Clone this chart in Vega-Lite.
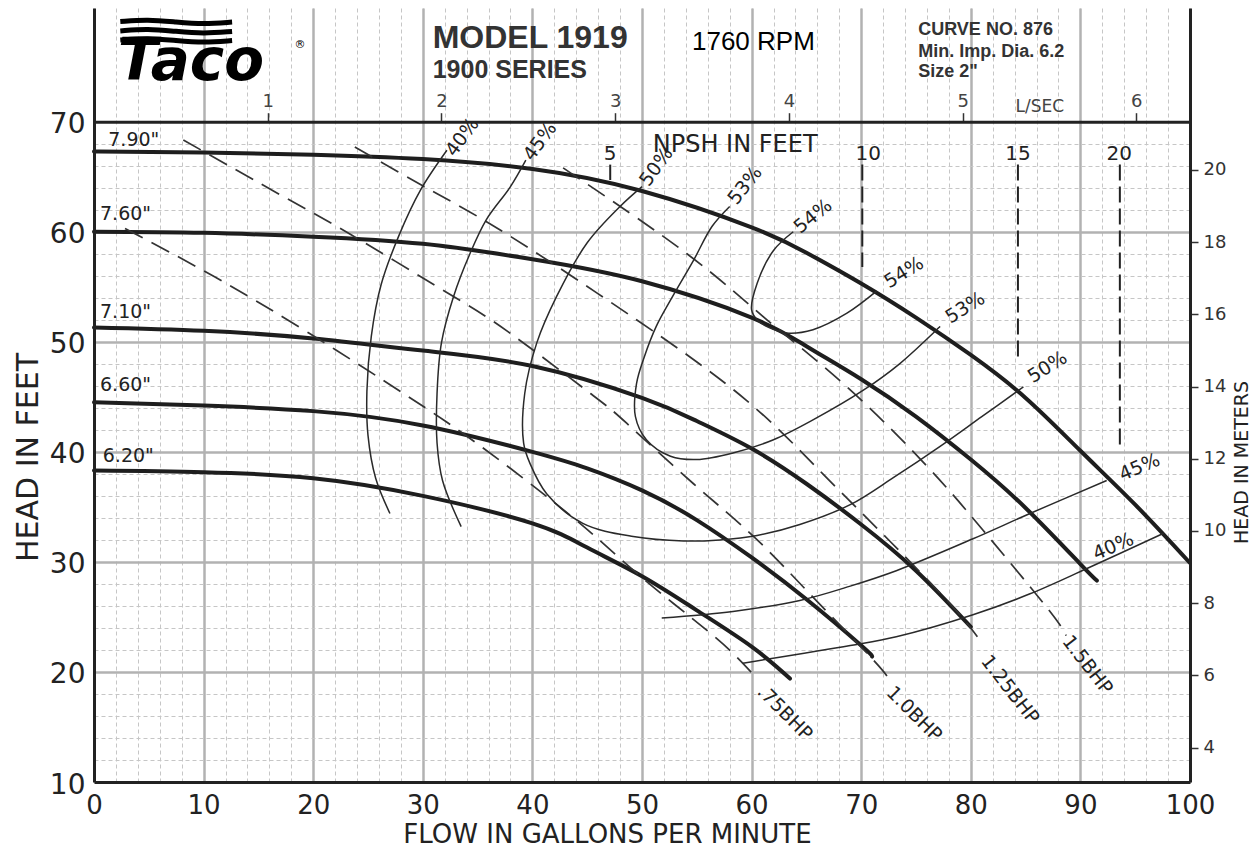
{
  "$schema": "https://vega.github.io/schema/vega-lite/v6.json",
  "width": 1096,
  "height": 774,
  "autosize": {"type": "none"},
  "padding": {"left": 94, "top": 8, "right": 67, "bottom": 70},
  "background": "white",
  "config": {
    "view": {"stroke": null},
    "font": "DejaVu Sans",
    "axis": {"labelFont": "DejaVu Sans", "titleFont": "DejaVu Sans", "labelColor": "#222", "titleColor": "#222", "titleFontWeight": "normal", "labelFlush": false, "labelOverlap": false}
  },
  "datasets": {
    "heads": [
      {"d":"7.90","q":0,"h":67.3},{"d":"7.90","q":10,"h":67.2},{"d":"7.90","q":20,"h":67.0},{"d":"7.90","q":30,"h":66.6},{"d":"7.90","q":40,"h":65.7},{"d":"7.90","q":50,"h":63.7},{"d":"7.90","q":60,"h":60.4},{"d":"7.90","q":65,"h":58.1},{"d":"7.90","q":70,"h":55.3},{"d":"7.90","q":75,"h":52.2},{"d":"7.90","q":80,"h":48.8},{"d":"7.90","q":85,"h":44.9},{"d":"7.90","q":90,"h":40.1},{"d":"7.90","q":95,"h":35.2},{"d":"7.90","q":100,"h":29.9},
      {"d":"7.60","q":0,"h":60.0},{"d":"7.60","q":10,"h":59.9},{"d":"7.60","q":20,"h":59.55},{"d":"7.60","q":30,"h":58.9},{"d":"7.60","q":40,"h":57.5},{"d":"7.60","q":50,"h":55.5},{"d":"7.60","q":60,"h":52.2},{"d":"7.60","q":65,"h":49.6},{"d":"7.60","q":70,"h":46.6},{"d":"7.60","q":75,"h":43.2},{"d":"7.60","q":80,"h":39.3},{"d":"7.60","q":85,"h":34.9},{"d":"7.60","q":90,"h":29.8},{"d":"7.60","q":91.5,"h":28.3},
      {"d":"7.10","q":0,"h":51.3},{"d":"7.10","q":10,"h":51.0},{"d":"7.10","q":20,"h":50.3},{"d":"7.10","q":30,"h":49.2},{"d":"7.10","q":40,"h":47.8},{"d":"7.10","q":50,"h":44.9},{"d":"7.10","q":55,"h":42.8},{"d":"7.10","q":60,"h":40.3},{"d":"7.10","q":65,"h":37.1},{"d":"7.10","q":70,"h":33.4},{"d":"7.10","q":75,"h":29.2},{"d":"7.10","q":80,"h":24.1},
      {"d":"6.60","q":0,"h":44.5},{"d":"6.60","q":10,"h":44.2},{"d":"6.60","q":20,"h":43.7},{"d":"6.60","q":30,"h":42.4},{"d":"6.60","q":40,"h":40.0},{"d":"6.60","q":45,"h":38.5},{"d":"6.60","q":50,"h":36.5},{"d":"6.60","q":55,"h":33.8},{"d":"6.60","q":60,"h":30.4},{"d":"6.60","q":65,"h":26.6},{"d":"6.60","q":70,"h":22.4},{"d":"6.60","q":71,"h":21.4},
      {"d":"6.20","q":0,"h":38.3},{"d":"6.20","q":10,"h":38.15},{"d":"6.20","q":20,"h":37.6},{"d":"6.20","q":30,"h":36.0},{"d":"6.20","q":40,"h":33.5},{"d":"6.20","q":45,"h":31.3},{"d":"6.20","q":50,"h":28.7},{"d":"6.20","q":55,"h":25.6},{"d":"6.20","q":60,"h":22.3},{"d":"6.20","q":63.5,"h":19.4}
    ],
    "eff": [
      {"c":"40L","i":0,"q":32.2,"h":67.4},{"c":"40L","i":1,"q":29.8,"h":63.8},{"c":"40L","i":2,"q":27.8,"h":59.6},{"c":"40L","i":3,"q":26.2,"h":55.2},{"c":"40L","i":4,"q":25.3,"h":50.5},{"c":"40L","i":5,"q":24.9,"h":45.5},{"c":"40L","i":6,"q":25.0,"h":41.5},{"c":"40L","i":7,"q":25.7,"h":37.6},{"c":"40L","i":8,"q":27.0,"h":34.4},
      {"c":"45L","i":0,"q":39.4,"h":66.5},{"c":"45L","i":1,"q":38.0,"h":64.1},{"c":"45L","i":2,"q":35.8,"h":61.1},{"c":"45L","i":3,"q":34.3,"h":58.0},{"c":"45L","i":4,"q":32.8,"h":54.1},{"c":"45L","i":5,"q":31.7,"h":49.9},{"c":"45L","i":6,"q":31.3,"h":45.3},{"c":"45L","i":7,"q":31.3,"h":40.8},{"c":"45L","i":8,"q":31.8,"h":37.4},{"c":"45L","i":9,"q":33.5,"h":33.2},
      {"c":"50","i":0,"q":50.0,"h":64.1},{"c":"50","i":1,"q":48.0,"h":62.3},{"c":"50","i":2,"q":45.0,"h":59.0},{"c":"50","i":3,"q":42.2,"h":54.1},{"c":"50","i":4,"q":40.4,"h":49.9},{"c":"50","i":5,"q":39.3,"h":45.3},{"c":"50","i":6,"q":39.2,"h":40.8},{"c":"50","i":7,"q":39.8,"h":38.9},{"c":"50","i":8,"q":41.3,"h":36.2},{"c":"50","i":9,"q":44.6,"h":33.5},{"c":"50","i":10,"q":49.2,"h":32.3},{"c":"50","i":11,"q":53.8,"h":31.9},{"c":"50","i":12,"q":57.1,"h":32.0},{"c":"50","i":13,"q":60.5,"h":32.4},{"c":"50","i":14,"q":64.4,"h":33.4},{"c":"50","i":15,"q":69.0,"h":35.2},{"c":"50","i":16,"q":73.0,"h":37.7},{"c":"50","i":17,"q":77.2,"h":40.5},{"c":"50","i":18,"q":81.0,"h":43.2},{"c":"50","i":19,"q":84.8,"h":45.9},
      {"c":"53","i":0,"q":58.0,"h":62.3},{"c":"53","i":1,"q":56.4,"h":60.5},{"c":"53","i":2,"q":54.7,"h":57.4},{"c":"53","i":3,"q":52.9,"h":54.3},{"c":"53","i":4,"q":51.3,"h":51.4},{"c":"53","i":5,"q":50.2,"h":48.6},{"c":"53","i":6,"q":49.5,"h":46.2},{"c":"53","i":7,"q":49.4,"h":43.2},{"c":"53","i":8,"q":50.4,"h":41.1},{"c":"53","i":9,"q":52.6,"h":39.6},{"c":"53","i":10,"q":55.0,"h":39.3},{"c":"53","i":11,"q":58.3,"h":39.9},{"c":"53","i":12,"q":62.0,"h":41.1},{"c":"53","i":13,"q":65.6,"h":42.9},{"c":"53","i":14,"q":70.2,"h":45.6},{"c":"53","i":15,"q":73.5,"h":48.0},{"c":"53","i":16,"q":77.2,"h":51.4},
      {"c":"54","i":0,"q":63.8,"h":60.0},{"c":"54","i":1,"q":62.0,"h":58.3},{"c":"54","i":2,"q":60.5,"h":55.3},{"c":"54","i":3,"q":60.0,"h":52.9},{"c":"54","i":4,"q":60.6,"h":51.9},{"c":"54","i":5,"q":61.6,"h":51.3},{"c":"54","i":6,"q":63.2,"h":50.8},{"c":"54","i":7,"q":65.6,"h":51.1},{"c":"54","i":8,"q":68.7,"h":52.6},{"c":"54","i":9,"q":71.4,"h":54.6},
      {"c":"45R","i":0,"q":51.8,"h":24.9},{"c":"45R","i":1,"q":58.3,"h":25.5},{"c":"45R","i":2,"q":64.4,"h":26.5},{"c":"45R","i":3,"q":69.0,"h":27.8},{"c":"45R","i":4,"q":73.2,"h":29.2},{"c":"45R","i":5,"q":80.2,"h":32.1},{"c":"45R","i":6,"q":85.4,"h":34.4},{"c":"45R","i":7,"q":92.4,"h":37.4},
      {"c":"40R","i":0,"q":59.2,"h":20.8},{"c":"40R","i":1,"q":69.0,"h":22.4},{"c":"40R","i":2,"q":73.2,"h":23.2},{"c":"40R","i":3,"q":80.2,"h":25.2},{"c":"40R","i":4,"q":85.4,"h":27.1},{"c":"40R","i":5,"q":90.6,"h":29.4},{"c":"40R","i":6,"q":97.6,"h":32.6}
    ],
    "bhp": [
      {"b":"0.75","q":2.83,"h":60.3},{"b":"0.75","q":11.0,"h":55.9},{"b":"0.75","q":19.6,"h":50.8},{"b":"0.75","q":28.4,"h":45.2},{"b":"0.75","q":35.3,"h":40.5},{"b":"0.75","q":42.5,"h":35.0},{"b":"0.75","q":46.2,"h":31.9},{"b":"0.75","q":49.5,"h":29.0},{"b":"0.75","q":52.9,"h":26.2},{"b":"0.75","q":55.9,"h":23.8},{"b":"0.75","q":58.3,"h":21.7},{"b":"0.75","q":60.5,"h":19.4},
      {"b":"1.0","q":8.15,"h":68.34},{"b":"1.0","q":17.1,"h":63.3},{"b":"1.0","q":23.5,"h":59.7},{"b":"1.0","q":32.0,"h":54.6},{"b":"1.0","q":37.8,"h":50.9},{"b":"1.0","q":45.3,"h":45.3},{"b":"1.0","q":48.6,"h":42.6},{"b":"1.0","q":54.7,"h":37.1},{"b":"1.0","q":60.2,"h":32.3},{"b":"1.0","q":65.6,"h":26.8},{"b":"1.0","q":71.1,"h":21.1},{"b":"1.0","q":72.6,"h":19.2},
      {"b":"1.25","q":23.8,"h":67.7},{"b":"1.25","q":30.5,"h":63.9},{"b":"1.25","q":37.8,"h":59.7},{"b":"1.25","q":49.5,"h":52.0},{"b":"1.25","q":59.5,"h":44.7},{"b":"1.25","q":66.5,"h":38.0},{"b":"1.25","q":72.6,"h":31.9},{"b":"1.25","q":78.1,"h":26.2},{"b":"1.25","q":80.6,"h":23.2},
      {"b":"1.5","q":42.8,"h":65.8},{"b":"1.5","q":54.1,"h":58.0},{"b":"1.5","q":61.4,"h":52.0},{"b":"1.5","q":68.7,"h":45.9},{"b":"1.5","q":76.0,"h":38.7},{"b":"1.5","q":81.1,"h":32.9},{"b":"1.5","q":86.9,"h":25.9},{"b":"1.5","q":88.7,"h":23.3}
    ],
    "npsh": [
      {"n":"5","q":47.1,"h1":66.1,"h2":64.7},
      {"n":"10","q":70.1,"h1":66.1,"h2":56.8},
      {"n":"15","q":84.3,"h1":66.1,"h2":48.3},
      {"n":"20","q":93.6,"h1":66.1,"h2":40.2}
    ],
    "waves": [
      {"w":1,"q":2.4,"h":79.1},{"w":1,"q":4.9,"h":79.3},{"w":1,"q":7.5,"h":79.05},{"w":1,"q":10.0,"h":78.85},{"w":1,"q":12.6,"h":79.05},
      {"w":2,"q":2.4,"h":78.25},{"w":2,"q":4.9,"h":78.45},{"w":2,"q":7.5,"h":78.2},{"w":2,"q":10.0,"h":78.0},{"w":2,"q":12.6,"h":78.2},
      {"w":3,"q":2.4,"h":77.42},{"w":3,"q":4.9,"h":77.62},{"w":3,"q":7.5,"h":77.37},{"w":3,"q":10.0,"h":77.17},{"w":3,"q":12.6,"h":77.37}
    ],
    "labels": [
      {"t":"7.90\"","q":1.3,"h":68.3,"g":"dia"},
      {"t":"7.60\"","q":0.55,"h":61.6,"g":"dia"},
      {"t":"7.10\"","q":0.55,"h":52.7,"g":"dia"},
      {"t":"6.60\"","q":0.55,"h":46.1,"g":"dia"},
      {"t":"6.20\"","q":0.8,"h":39.6,"g":"dia"},
      {"t":"40%","q":33.6,"h":68.6,"g":"e55"},
      {"t":"45%","q":40.7,"h":68.2,"g":"e55"},
      {"t":"50%","q":51.3,"h":65.9,"g":"e55"},
      {"t":"53%","q":59.4,"h":64.2,"g":"e52"},
      {"t":"54%","q":65.6,"h":61.4,"g":"e39"},
      {"t":"54%","q":73.9,"h":56.3,"g":"e32"},
      {"t":"53%","q":79.5,"h":53.1,"g":"e32"},
      {"t":"50%","q":87.0,"h":47.7,"g":"e32"},
      {"t":"45%","q":95.4,"h":38.6,"g":"e23"},
      {"t":"40%","q":93.0,"h":31.4,"g":"e23"},
      {"t":".75BHP","q":60.8,"h":18.5,"g":"b45"},
      {"t":"1.0BHP","q":72.6,"h":18.4,"g":"b45"},
      {"t":"1.25BHP","q":81.3,"h":21.3,"g":"b52"},
      {"t":"1.5BHP","q":88.7,"h":23.1,"g":"b52"},
      {"t":"5","q":47.1,"h":67.1,"g":"np"},
      {"t":"10","q":70.65,"h":67.1,"g":"np"},
      {"t":"15","q":84.3,"h":67.1,"g":"np"},
      {"t":"20","q":93.55,"h":67.1,"g":"np"},
      {"t":"NPSH IN FEET","q":58.5,"h":67.9,"g":"npt"},
      {"t":"L/SEC","q":86.3,"h":71.34,"g":"ls"},
      {"t":"MODEL 1919","q":30.9,"h":77.6,"g":"model"},
      {"t":"1900 SERIES","q":30.9,"h":74.7,"g":"series"},
      {"t":"1760 RPM","q":54.56,"h":77.24,"g":"rpm"},
      {"t":"CURVE NO. 876","q":75.2,"h":78.3,"g":"info"},
      {"t":"Min. Imp. Dia. 6.2","q":75.2,"h":76.36,"g":"info"},
      {"t":"Size 2\"","q":75.2,"h":74.5,"g":"info"},
      {"t":"Taco","q":2.19,"h":73.79,"g":"logo"},
      {"t":"®","q":18.8,"h":76.97,"g":"reg"}
    ]
  },
  "resolve": {"scale": {"x": "independent", "y": "independent"}},
  "layer": [
    {
      "data": {"values": [{"q": 0, "h": 10}, {"q": 100, "h": 80.33}]},
      "mark": {"type": "point", "opacity": 0},
      "encoding": {
        "x": {"field": "q", "type": "quantitative", "scale": {"domain": [0, 100], "nice": false, "zero": false},
          "axis": {"orient": "bottom", "values": [0,2,4,6,8,10,12,14,16,18,20,22,24,26,28,30,32,34,36,38,40,42,44,46,48,50,52,54,56,58,60,62,64,66,68,70,72,74,76,78,80,82,84,86,88,90,92,94,96,98,100], "grid": true, "gridColor": "#c6c6c6", "gridDash": [4, 3], "gridWidth": 1, "labels": false, "ticks": false, "domain": false, "title": null, "zindex": 0}},
        "y": {"field": "h", "type": "quantitative", "scale": {"domain": [10, 80.33], "nice": false, "zero": false},
          "axis": {"orient": "left", "values": [10,12,14,16,18,20,22,24,26,28,30,32,34,36,38,40,42,44,46,48,50,52,54,56,58,60,62,64,66,68,70], "grid": true, "gridColor": "#c6c6c6", "gridDash": [4, 3], "gridWidth": 1, "labels": false, "ticks": false, "domain": false, "title": null, "zindex": 0}}
      }
    },
    {
      "data": {"values": [{"q": 0, "h": 10}, {"q": 100, "h": 80.33}]},
      "mark": {"type": "point", "opacity": 0},
      "encoding": {
        "x": {"field": "q", "type": "quantitative", "scale": {"domain": [0, 100], "nice": false, "zero": false},
          "axis": {"orient": "bottom", "values": [10,20,30,40,50,60,70,80,90], "grid": true, "gridColor": "#b2b2b2", "gridWidth": 2.5, "labels": false, "ticks": false, "domain": false, "title": null, "zindex": 0}},
        "y": {"field": "h", "type": "quantitative", "scale": {"domain": [10, 80.33], "nice": false, "zero": false},
          "axis": {"orient": "left", "values": [20,30,40,50,60], "grid": true, "gridColor": "#b2b2b2", "gridWidth": 2.5, "labels": false, "ticks": false, "domain": false, "title": null, "zindex": 0}}
      }
    },
    {
      "layer": [
        {
          "mark": {"type": "rect", "fill": "white"},
          "encoding": {"x": {"datum": 0}, "x2": {"datum": 100}, "y": {"datum": 70}, "y2": {"datum": 80.33}}
        },
        {
          "data": {"name": "heads"},
          "mark": {"type": "line", "interpolate": "natural", "strokeWidth": 4, "color": "#1e1e1e", "strokeCap": "round"},
          "encoding": {
            "x": {"field": "q", "type": "quantitative", "scale": {"domain": [0, 100], "nice": false, "zero": false},
              "axis": {"orient": "bottom", "values": [0,10,20,30,40,50,60,70,80,90,100], "grid": false, "ticks": false, "tickSize": 0, "labelPadding": 10, "labelFontSize": 26, "labelColor": "#222", "domain": true, "domainWidth": 3, "domainColor": "#222", "title": "FLOW IN GALLONS PER MINUTE", "titleFontSize": 26, "titleX": 513, "titleY": 52, "titleAlign": "center", "titleBaseline": "middle", "zindex": 1}},
            "y": {"field": "h", "type": "quantitative", "scale": {"domain": [10, 80.33], "nice": false, "zero": false},
              "axis": {"orient": "left", "values": [10,20,30,40,50,60,70], "grid": false, "ticks": false, "tickSize": 0, "labelPadding": 9, "labelFontSize": 28, "labelOffset": 3, "labelColor": "#222", "domain": true, "domainWidth": 3, "domainColor": "#222", "title": "HEAD IN FEET", "titleFontSize": 30, "titleAngle": 270, "titleX": -66, "titleY": 449, "titleAlign": "center", "titleBaseline": "middle", "zindex": 1}},
            "detail": {"field": "d"}
          }
        },
        {
          "data": {"name": "npsh"},
          "mark": {"type": "rule", "strokeDash": [16, 6], "strokeWidth": 2, "color": "#222"},
          "encoding": {"x": {"field": "q", "type": "quantitative"}, "y": {"field": "h1", "type": "quantitative"}, "y2": {"field": "h2"}}
        },
        {
          "data": {"name": "bhp"},
          "mark": {"type": "line", "interpolate": "natural", "strokeWidth": 1.7, "color": "#333", "strokeDash": [20, 10]},
          "encoding": {"x": {"field": "q", "type": "quantitative"}, "y": {"field": "h", "type": "quantitative"}, "detail": {"field": "b"}}
        },
        {
          "data": {"name": "eff"},
          "mark": {"type": "line", "interpolate": "catmull-rom", "strokeWidth": 1.5, "color": "#2a2a2a"},
          "encoding": {"x": {"field": "q", "type": "quantitative"}, "y": {"field": "h", "type": "quantitative"}, "detail": {"field": "c"}, "order": {"field": "i", "type": "quantitative"}}
        },
        {
          "mark": {"type": "rule", "strokeWidth": 3, "color": "#222"},
          "encoding": {"x": {"datum": 0}, "x2": {"datum": 100}, "y": {"datum": 72.88}}
        },
        {
          "mark": {"type": "rule", "strokeWidth": 3, "color": "#222"},
          "encoding": {"x": {"datum": 0}, "x2": {"datum": 100}, "y": {"datum": 80.33}}
        },
        {
          "mark": {"type": "rule", "strokeWidth": 2.5, "color": "#222"},
          "encoding": {"x": {"datum": 72.9}, "y": {"datum": 72.88}, "y2": {"datum": 80.33}}
        },
        {
          "data": {"name": "waves"},
          "mark": {"type": "line", "interpolate": "basis", "strokeWidth": 5, "color": "#000"},
          "encoding": {"x": {"field": "q", "type": "quantitative"}, "y": {"field": "h", "type": "quantitative"}, "detail": {"field": "w"}}
        },
        {
          "data": {"name": "labels"}, "transform": [{"filter": "datum.g == 'dia'"}],
          "mark": {"type": "text", "align": "left", "baseline": "middle", "fontSize": 19, "color": "#222"},
          "encoding": {"x": {"field": "q", "type": "quantitative"}, "y": {"field": "h", "type": "quantitative"}, "text": {"field": "t"}}
        },
        {
          "data": {"name": "labels"}, "transform": [{"filter": "datum.g == 'e55'"}],
          "mark": {"type": "text", "align": "center", "baseline": "middle", "fontSize": 19, "color": "#222", "angle": -54},
          "encoding": {"x": {"field": "q", "type": "quantitative"}, "y": {"field": "h", "type": "quantitative"}, "text": {"field": "t"}}
        },
        {
          "data": {"name": "labels"}, "transform": [{"filter": "datum.g == 'e52'"}],
          "mark": {"type": "text", "align": "center", "baseline": "middle", "fontSize": 19, "color": "#222", "angle": -52},
          "encoding": {"x": {"field": "q", "type": "quantitative"}, "y": {"field": "h", "type": "quantitative"}, "text": {"field": "t"}}
        },
        {
          "data": {"name": "labels"}, "transform": [{"filter": "datum.g == 'e39'"}],
          "mark": {"type": "text", "align": "center", "baseline": "middle", "fontSize": 19, "color": "#222", "angle": -39},
          "encoding": {"x": {"field": "q", "type": "quantitative"}, "y": {"field": "h", "type": "quantitative"}, "text": {"field": "t"}}
        },
        {
          "data": {"name": "labels"}, "transform": [{"filter": "datum.g == 'e32'"}],
          "mark": {"type": "text", "align": "center", "baseline": "middle", "fontSize": 19, "color": "#222", "angle": -32},
          "encoding": {"x": {"field": "q", "type": "quantitative"}, "y": {"field": "h", "type": "quantitative"}, "text": {"field": "t"}}
        },
        {
          "data": {"name": "labels"}, "transform": [{"filter": "datum.g == 'e23'"}],
          "mark": {"type": "text", "align": "center", "baseline": "middle", "fontSize": 19, "color": "#222", "angle": -23},
          "encoding": {"x": {"field": "q", "type": "quantitative"}, "y": {"field": "h", "type": "quantitative"}, "text": {"field": "t"}}
        },
        {
          "data": {"name": "labels"}, "transform": [{"filter": "datum.g == 'b45'"}],
          "mark": {"type": "text", "align": "left", "baseline": "middle", "fontSize": 19, "color": "#222", "angle": 45},
          "encoding": {"x": {"field": "q", "type": "quantitative"}, "y": {"field": "h", "type": "quantitative"}, "text": {"field": "t"}}
        },
        {
          "data": {"name": "labels"}, "transform": [{"filter": "datum.g == 'b52'"}],
          "mark": {"type": "text", "align": "left", "baseline": "middle", "fontSize": 19, "color": "#222", "angle": 52},
          "encoding": {"x": {"field": "q", "type": "quantitative"}, "y": {"field": "h", "type": "quantitative"}, "text": {"field": "t"}}
        },
        {
          "data": {"name": "labels"}, "transform": [{"filter": "datum.g == 'np'"}],
          "mark": {"type": "text", "align": "center", "baseline": "middle", "fontSize": 20, "color": "#222"},
          "encoding": {"x": {"field": "q", "type": "quantitative"}, "y": {"field": "h", "type": "quantitative"}, "text": {"field": "t"}}
        },
        {
          "data": {"name": "labels"}, "transform": [{"filter": "datum.g == 'npt'"}],
          "mark": {"type": "text", "align": "center", "baseline": "middle", "fontSize": 24, "color": "#222"},
          "encoding": {"x": {"field": "q", "type": "quantitative"}, "y": {"field": "h", "type": "quantitative"}, "text": {"field": "t"}}
        },
        {
          "data": {"name": "labels"}, "transform": [{"filter": "datum.g == 'ls'"}],
          "mark": {"type": "text", "align": "center", "baseline": "middle", "fontSize": 17, "color": "#444"},
          "encoding": {"x": {"field": "q", "type": "quantitative"}, "y": {"field": "h", "type": "quantitative"}, "text": {"field": "t"}}
        },
        {
          "data": {"name": "labels"}, "transform": [{"filter": "datum.g == 'model'"}],
          "mark": {"type": "text", "align": "left", "baseline": "middle", "font": "Liberation Sans", "fontWeight": "bold", "fontSize": 32, "color": "#333"},
          "encoding": {"x": {"field": "q", "type": "quantitative"}, "y": {"field": "h", "type": "quantitative"}, "text": {"field": "t"}}
        },
        {
          "data": {"name": "labels"}, "transform": [{"filter": "datum.g == 'series'"}],
          "mark": {"type": "text", "align": "left", "baseline": "middle", "font": "Liberation Sans", "fontWeight": "bold", "fontSize": 25, "color": "#333"},
          "encoding": {"x": {"field": "q", "type": "quantitative"}, "y": {"field": "h", "type": "quantitative"}, "text": {"field": "t"}}
        },
        {
          "data": {"name": "labels"}, "transform": [{"filter": "datum.g == 'rpm'"}],
          "mark": {"type": "text", "align": "left", "baseline": "middle", "font": "Liberation Sans", "fontSize": 26, "color": "#000"},
          "encoding": {"x": {"field": "q", "type": "quantitative"}, "y": {"field": "h", "type": "quantitative"}, "text": {"field": "t"}}
        },
        {
          "data": {"name": "labels"}, "transform": [{"filter": "datum.g == 'info'"}],
          "mark": {"type": "text", "align": "left", "baseline": "middle", "font": "Liberation Sans", "fontWeight": "bold", "fontSize": 18, "color": "#333"},
          "encoding": {"x": {"field": "q", "type": "quantitative"}, "y": {"field": "h", "type": "quantitative"}, "text": {"field": "t"}}
        },
        {
          "data": {"name": "labels"}, "transform": [{"filter": "datum.g == 'logo'"}],
          "mark": {"type": "text", "align": "left", "baseline": "alphabetic", "font": "DejaVu Sans", "fontWeight": "bold", "fontStyle": "italic", "fontSize": 58, "color": "#000"},
          "encoding": {"x": {"field": "q", "type": "quantitative"}, "y": {"field": "h", "type": "quantitative"}, "text": {"field": "t"}}
        },
        {
          "data": {"name": "labels"}, "transform": [{"filter": "datum.g == 'reg'"}],
          "mark": {"type": "text", "align": "center", "baseline": "middle", "fontSize": 11, "color": "#000"},
          "encoding": {"x": {"field": "q", "type": "quantitative"}, "y": {"field": "h", "type": "quantitative"}, "text": {"field": "t"}}
        }
      ]
    },
    {
      "data": {"values": [{"ls": 0}, {"ls": 6.309}]},
      "mark": {"type": "point", "opacity": 0},
      "encoding": {
        "x": {"field": "ls", "type": "quantitative", "scale": {"domain": [0, 6.309], "nice": false, "zero": false},
          "axis": {"orient": "top", "offset": -113.7, "values": [1,2,3,4,5,6], "grid": false, "domain": true, "domainWidth": 3, "domainColor": "#222", "ticks": true, "tickSize": 9, "tickWidth": 1.5, "tickColor": "#333", "labelPadding": 2, "labelFontSize": 18, "labelColor": "#444", "title": null, "zindex": 1}}
      }
    },
    {
      "data": {"values": [{"m": 3.048}, {"m": 24.485}]},
      "mark": {"type": "point", "opacity": 0},
      "encoding": {
        "y": {"field": "m", "type": "quantitative", "scale": {"domain": [3.048, 24.485], "nice": false, "zero": false},
          "axis": {"orient": "right", "values": [4,6,8,10,12,14,16,18,20], "grid": false, "domain": true, "domainWidth": 3, "domainColor": "#222", "ticks": true, "tickSize": 8, "tickWidth": 1.5, "tickColor": "#333", "labelPadding": 5, "labelFontSize": 18, "labelColor": "#333", "title": "HEAD IN METERS", "titleFontSize": 19, "titleAngle": 270, "titleX": 51, "titleY": 454, "titleAlign": "center", "titleBaseline": "middle", "zindex": 1}}
      }
    }
  ]
}
